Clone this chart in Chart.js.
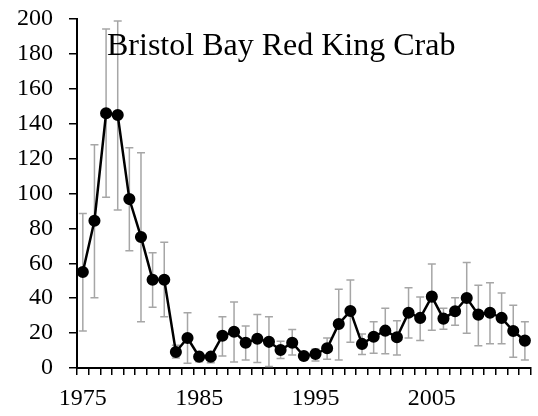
<!DOCTYPE html>
<html>
<head>
<meta charset="utf-8">
<script src="https://cdn.jsdelivr.net/npm/chart.js@4/dist/chart.umd.min.js"></script>
<style>
  html, body { margin: 0; padding: 0; background: #fff; }
  #wrap { width: 538px; height: 416px; }
</style>
</head>
<body>
<div id="wrap"><canvas id="crabChart"></canvas></div>
<script>
// ======================
// DATA
// ======================
const years = [];
for (let y = 1975; y <= 2013; y++) years.push(String(y));

const abundance = [55, 84.4, 146, 145, 96.8, 75.1, 50.6, 50.6, 9.2, 17.2,
                   6.5, 6.5, 18.5, 20.8, 14.5, 16.8, 15, 10.3, 14.5, 6.9,
                   8.0, 11.3, 25.2, 32.7, 13.8, 17.9, 21.4, 17.6, 31.7, 28.7,
                   40.9, 28.3, 32.5, 40.1, 30.6, 31.7, 28.7, 21.2, 15.7];

const upperCI = [88.6, 128, 194.3, 198.9, 126.2, 123.4, 66.1, 72.0, 13, 31.7,
                 9, 8, 29.4, 37.8, 24, 30.7, 29.4, 15.3, 22, 8.4,
                 10.9, 17.2, 45.1, 50.4, 19.5, 26.5, 34.2, 27.1, 46, 40.7,
                 59.6, 34.2, 40.3, 60.4, 47.4, 48.9, 43, 35.9, 26.5];

const lowerCI = [21.2, 40.3, 97.8, 90.5, 67.2, 26.5, 34.8, 29.4, 5.7, 2.7,
                 3.6, 3, 6.9, 3.4, 4.6, 3.2, 0.8, 5.5, 7.4, 4.6,
                 4.0, 5.0, 4.6, 14.7, 7.8, 8.4, 8.2, 7.4, 17.2, 15.7,
                 21.6, 22.2, 24.5, 19.9, 12.8, 13.9, 13.9, 6.1, 4.6];

const chartTitle = "Bristol Bay Red King Crab";
const FONT = "'Liberation Serif', 'Times New Roman', serif";


// ======================
// ERROR BARS + TITLE
// ======================
const errorBars = {
    id: "errorBars",
    beforeDatasetsDraw(chart) {
        const ctx = chart.ctx;
        const x = chart.scales.x;
        const y = chart.scales.y;
        ctx.save();
        ctx.strokeStyle = "#a6a6a6";
        ctx.lineWidth = 1.5;
        for (let i = 0; i < years.length; i++) {
            const px = x.getPixelForValue(i);
            const top = y.getPixelForValue(upperCI[i]);
            const bot = y.getPixelForValue(lowerCI[i]);
            ctx.beginPath();
            ctx.moveTo(px, top); ctx.lineTo(px, bot);
            ctx.moveTo(px - 4, top); ctx.lineTo(px + 4, top);
            ctx.moveTo(px - 4, bot); ctx.lineTo(px + 4, bot);
            ctx.stroke();
        }
        ctx.restore();
    },
    afterDraw(chart) {
        const ctx = chart.ctx;
        ctx.save();
        ctx.fillStyle = "#000";
        ctx.font = "32px " + FONT;
        ctx.textBaseline = "alphabetic";
        ctx.fillText(chartTitle, 107, 55);
        ctx.restore();
    }
};


// ======================
// CHART SETUP
// ======================
new Chart(document.getElementById("crabChart"), {
    type: "line",
    data: {
        labels: years,
        datasets: [{
            label: "Abundance",
            data: abundance,
            borderColor: "#000",
            backgroundColor: "#000",
            borderWidth: 2.5,
            pointRadius: 4.8,
            pointHoverRadius: 4.8,
            tension: 0
        }]
    },
    options: {
        responsive: true,
        maintainAspectRatio: false,
        animation: false,
        layout: { padding: { top: 19, right: 7, left: 0, bottom: 0 } },
        plugins: { legend: { display: false }, tooltip: { enabled: false } },
        scales: {
            x: {
                offset: true,
                grid: { offset: true, drawOnChartArea: false, drawTicks: true, tickLength: 7, color: "#000", lineWidth: 1.5 },
                border: { display: true, color: "#000", width: 2 },
                ticks: {
                    autoSkip: false,
                    maxRotation: 0,
                    color: "#000",
                    padding: 9,
                    font: { family: FONT, size: 24 },
                    callback: (v, i) => (i % 10 === 0 ? years[i] : "")
                },
                afterFit: s => { s.height = 48; s.paddingLeft = 0; s.paddingRight = 0; }
            },
            y: {
                min: 0,
                max: 200,
                ticks: { stepSize: 20, color: "#000", padding: 16, font: { family: FONT, size: 24 } },
                grid: { drawOnChartArea: false, drawTicks: true, tickLength: 8, color: "#000", lineWidth: 1.5 },
                border: { display: true, color: "#000", width: 2 },
                afterFit: s => { s.width = 77; s.paddingTop = 0; s.paddingBottom = 0; }
            }
        }
    },
    plugins: [errorBars]
});
</script>
</body>
</html>
